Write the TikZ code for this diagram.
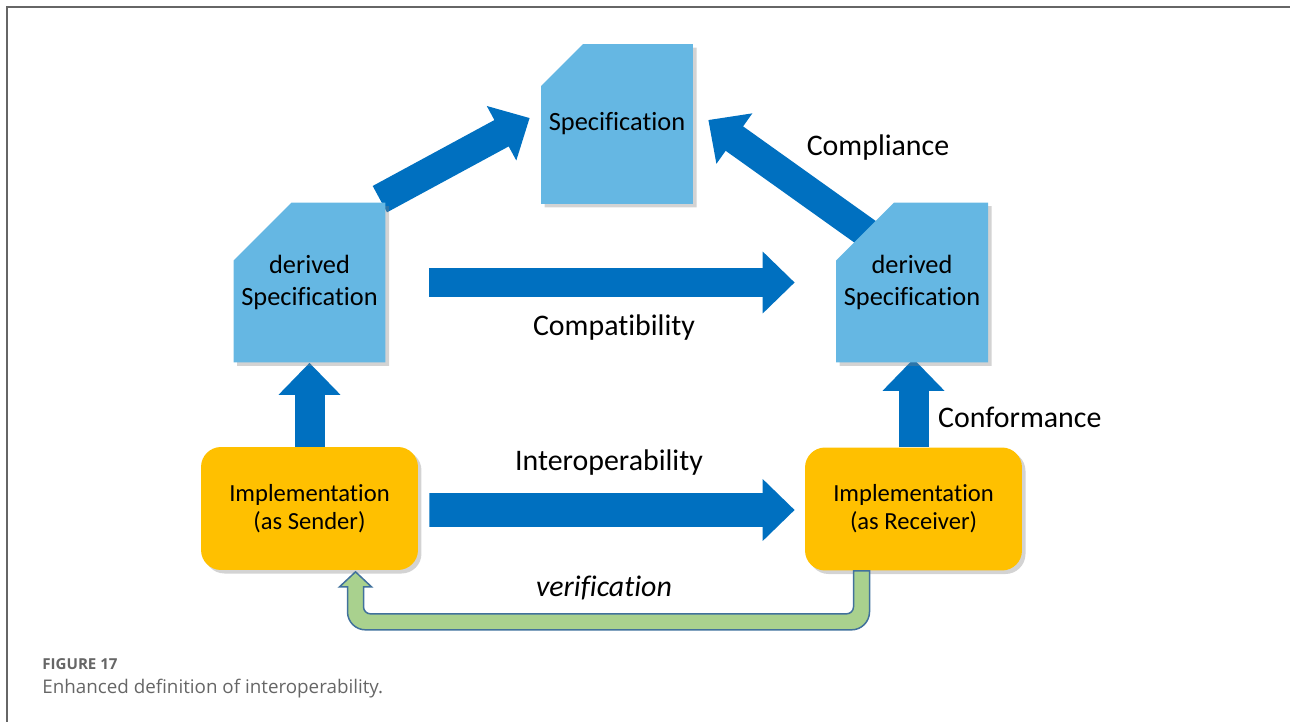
\documentclass[tikz,border=0pt]{standalone}
\usepackage{fontspec}
\setmainfont{Carlito}[Ligatures=NoCommon]
\newfontfamily\capfont{Open Sans}
\usetikzlibrary{calc, shapes.misc, arrows.meta, shadows}
\pgfdeclarelayer{bg}
\pgfsetlayers{bg,main}
\definecolor{specblue}{HTML}{65B7E3}
\definecolor{arrowblue}{HTML}{0070C0}
\definecolor{implorange}{HTML}{FFC000}
\definecolor{verigreen}{HTML}{A9D18E}
\definecolor{veriedge}{HTML}{41719C}
\definecolor{capgray}{HTML}{666666}

\begin{document}
\begin{tikzpicture}[x=0.02cm, y=-0.02cm,
    specbox/.style={chamfered rectangle, chamfered rectangle corners=north west, chamfered rectangle sep=0.62cm, fill=specblue, minimum width=3.04cm, minimum height=3.2cm, inner xsep=-0.5cm, inner ysep=0pt, align=center, font=\fontsize{15}{18}\selectfont, drop shadow={shadow xshift=2pt, shadow yshift=-2pt, opacity=0.35}},
    implbox/.style={rounded corners=0.4cm, fill=implorange, minimum width=4.34cm, minimum height=2.46cm, align=center, font=\fontsize{14}{16}\selectfont, drop shadow={shadow xshift=2pt, shadow yshift=-2pt, opacity=0.35}},
    bigarrow/.style={draw=arrowblue, line width=0.6cm, -{Triangle[length=0.64cm, width=1.2cm]}},
    lbl/.style={font=\fontsize{17}{20}\selectfont}]
    \useasboundingbox (0,0) rectangle (1290,722);
    \draw[capgray, line width=0.03cm] (7,722) -- (7,7) -- (1290,7); % moldura

    % caixas
    \node[specbox] (spec) at (617,124) {Specification};
    \node[specbox] (dsl) at (309.5,282.5) {derived\\Specification};
    \node[specbox] (dsr) at (912,282.5) {derived\\Specification};
    \node[implbox] (impS) at (309.5,508.5) {Implementation\\(as Sender)};
    \node[implbox] (impR) at (913.5,509) {Implementation\\(as Receiver)};

    % rotulos
    \node[lbl] (compl) at (878,148) {Compliance};
    \node[lbl] (compat) at (614,328) {Compatibility};
    \node[lbl, anchor=west] (conf) at (932,417) {Conformance};
    \node[lbl] (interop) at (609,463) {Interoperability};
    \node[lbl, font=\fontsize{17}{20}\selectfont\itshape] (verif) at (604,588) {verification};

    \begin{pgfonlayer}{bg}
        \draw[bigarrow] ($(dsl.north east)+(-6,-3)$) -- ($(spec.west)+(-11,-6)$);
        \draw[bigarrow] ($(dsr.north west)+(22,16)$) -- ($(spec.east)+(15,-4)$);
        \draw[bigarrow] ($(dsl.east)+(43,0)$) -- ($(dsr.west)+(-41,0)$);
        \draw[bigarrow, line width=0.68cm] ($(impS.east)+(11,1.5)$) -- ($(impR.west)+(-10,1)$);
        \draw[bigarrow] (impS.north) -- (dsl.south);
        \draw[bigarrow] (impR.north) -- ($(dsr.south)+(1.5,-4)$);
    \end{pgfonlayer}

    % seta de verificacao
    \coordinate (vR) at ($(impR.south)+(-44,0)$);
    \filldraw[fill=verigreen, draw=veriedge, line width=0.03cm]
        (vR) [rounded corners=0.36cm] -- ++(0,59) -- ++(-522,0) [sharp corners] -- ++(0,-43) -- ++(-8,0) -- ++(16,-15) -- ++(16,15) -- ++(-8,0) [rounded corners=0.14cm] -- ++(0,27) -- ++(490,0) [sharp corners] -- ++(0,-43) -- cycle;

    % legenda
    \node[anchor=base west, inner sep=0pt, text=capgray, font=\capfont\bfseries\fontsize{8.6}{10}\selectfont] (fig) at (42,669) {FIGURE 17};
    \node[anchor=base west, inner sep=0pt, text=capgray, font=\capfont\fontsize{10.7}{12}\selectfont] (cap) at (42,693) {Enhanced definition of interoperability.};
\end{tikzpicture}
\end{document}
